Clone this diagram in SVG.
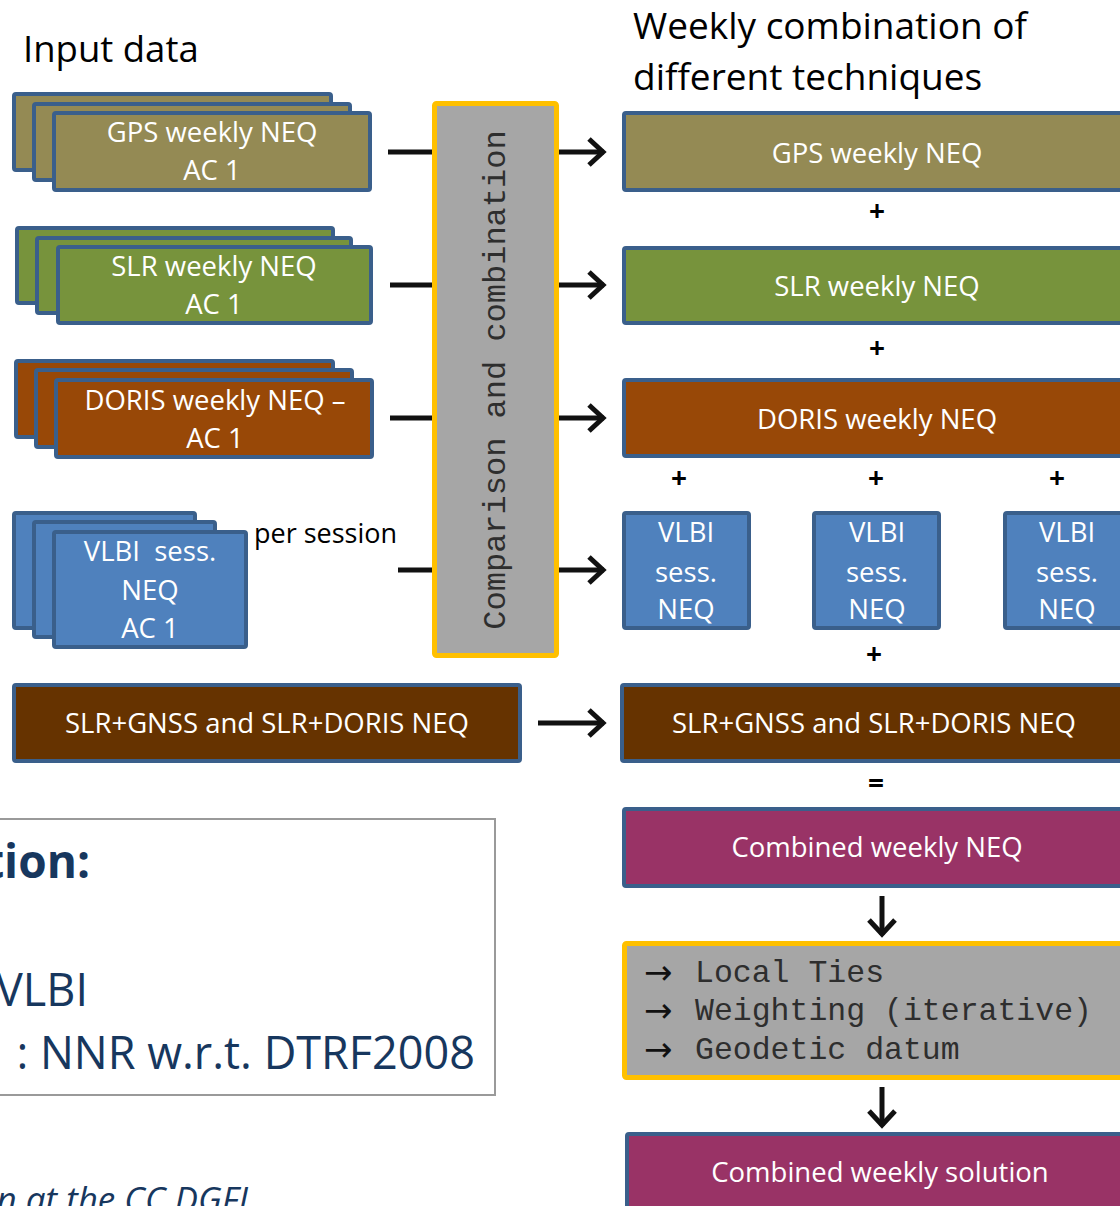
<svg xmlns="http://www.w3.org/2000/svg" width="1120" height="1206" viewBox="0 0 1120 1206">
<defs>
<style>
.bx{stroke:#3a5f8b;stroke-width:4}
.gps{fill:#948a54}.slr{fill:#77933c}.dor{fill:#984807}.vl{fill:#4f81bd}.mix{fill:#663300}.cmb{fill:#993366}
.proc{fill:#a6a6a6;stroke:#ffc000;stroke-width:5}
.t{font-family:"Open Sans","Liberation Sans",sans-serif;font-size:27.5px;fill:#fff;text-anchor:middle}
.h{font-family:"Open Sans","Liberation Sans",sans-serif;fill:#000}
.op{font-family:"Open Sans","Liberation Sans",sans-serif;font-size:28px;font-weight:bold;fill:#000;text-anchor:middle}
.mono{font-family:"Liberation Mono","Courier New",monospace;fill:#2e2e2e}
.bul{font-family:"DejaVu Sans",sans-serif;font-size:34px;fill:#111}
.nv{font-family:"Open Sans","Liberation Sans",sans-serif;fill:#17375e}
.ln{stroke:#111;stroke-width:5;fill:none}
</style>
<marker id="ah" markerUnits="userSpaceOnUse" viewBox="0 0 22 32" refX="19" refY="16" markerWidth="22" markerHeight="32" orient="auto">
<path d="M4,3 L18,16 L4,29" fill="none" stroke="#111" stroke-width="5"/>
</marker>
</defs>
<rect width="1120" height="1206" fill="#fff"/>

<text class="h" x="23" y="62" style="font-size:36.5px">Input data</text>
<text class="h" x="633" y="39" style="font-size:37px">Weekly combination of</text>
<text class="h" x="633" y="90" style="font-size:37px">different techniques</text>

<g id="connectors">
<line class="ln" x1="388" y1="152" x2="440" y2="152"/>
<line class="ln" x1="390" y1="285" x2="440" y2="285"/>
<line class="ln" x1="390" y1="418" x2="440" y2="418"/>
<line class="ln" x1="398" y1="570" x2="440" y2="570"/>
<line class="ln" x1="558" y1="152" x2="604" y2="152" marker-end="url(#ah)"/>
<line class="ln" x1="558" y1="285" x2="604" y2="285" marker-end="url(#ah)"/>
<line class="ln" x1="558" y1="418" x2="604" y2="418" marker-end="url(#ah)"/>
<line class="ln" x1="558" y1="570" x2="604" y2="570" marker-end="url(#ah)"/>
<line class="ln" x1="538" y1="723" x2="604" y2="723" marker-end="url(#ah)"/>
<line class="ln" x1="882" y1="896" x2="882" y2="935" marker-end="url(#ah)"/>
<line class="ln" x1="882" y1="1087" x2="882" y2="1126" marker-end="url(#ah)"/>
</g>

<g id="in-gps">
<rect class="bx gps" x="14" y="94" width="317" height="76" rx="2"/>
<rect class="bx gps" x="34" y="104" width="316" height="76" rx="2"/>
<rect class="bx gps" x="54" y="113" width="316" height="77" rx="2"/>
<text class="t" x="212" y="142">GPS weekly NEQ</text>
<text class="t" x="212" y="180">AC 1</text>
</g>
<g id="in-slr">
<rect class="bx slr" x="17" y="228" width="316" height="75" rx="2"/>
<rect class="bx slr" x="37" y="238" width="314" height="75" rx="2"/>
<rect class="bx slr" x="58" y="247" width="313" height="76" rx="2"/>
<text class="t" x="214" y="276">SLR weekly NEQ</text>
<text class="t" x="214" y="314">AC 1</text>
</g>
<g id="in-doris">
<rect class="bx dor" x="16" y="361" width="317" height="76" rx="2"/>
<rect class="bx dor" x="36" y="370" width="316" height="77" rx="2"/>
<rect class="bx dor" x="56" y="380" width="316" height="77" rx="2"/>
<text class="t" x="215" y="410">DORIS weekly NEQ –</text>
<text class="t" x="215" y="448">AC 1</text>
</g>
<g id="in-vlbi">
<rect class="bx vl" x="14" y="513" width="181" height="115" rx="2"/>
<rect class="bx vl" x="34" y="522" width="181" height="115" rx="2"/>
<rect class="bx vl" x="54" y="532" width="192" height="115" rx="2"/>
<text class="t" x="150" y="561" xml:space="preserve">VLBI  sess.</text>
<text class="t" x="150" y="600">NEQ</text>
<text class="t" x="150" y="638">AC 1</text>
</g>
<text class="h" x="254" y="543" style="font-size:27px">per session</text>
<g id="in-mix">
<rect class="bx mix" x="14" y="685" width="506" height="76" rx="2"/>
<text class="t" x="267" y="733">SLR+GNSS and SLR+DORIS NEQ</text>
</g>

<g id="compare">
<rect class="proc" x="434.5" y="103.5" width="122" height="552" rx="2"/>
<text class="mono" font-size="32" text-anchor="middle" transform="translate(505,380) rotate(-90)">Comparison and combination</text>
</g>

<g id="out-gps">
<rect class="bx gps" x="624" y="113" width="510" height="77" rx="2"/>
<text class="t" x="877" y="163">GPS weekly NEQ</text>
</g>
<text class="op" x="877" y="221">+</text>
<g id="out-slr">
<rect class="bx slr" x="624" y="248" width="510" height="75" rx="2"/>
<text class="t" x="877" y="296">SLR weekly NEQ</text>
</g>
<text class="op" x="877" y="358">+</text>
<g id="out-doris">
<rect class="bx dor" x="624" y="380" width="510" height="76" rx="2"/>
<text class="t" x="877" y="429">DORIS weekly NEQ</text>
</g>
<text class="op" x="679" y="488">+</text>
<text class="op" x="876" y="488">+</text>
<text class="op" x="1057" y="488">+</text>
<g id="out-vlbi1">
<rect class="bx vl" x="624" y="513" width="125" height="115" rx="2"/>
<text class="t" x="686" y="542">VLBI</text>
<text class="t" x="686" y="582">sess.</text>
<text class="t" x="686" y="619">NEQ</text>
</g>
<g id="out-vlbi2">
<rect class="bx vl" x="814" y="513" width="125" height="115" rx="2"/>
<text class="t" x="877" y="542">VLBI</text>
<text class="t" x="877" y="582">sess.</text>
<text class="t" x="877" y="619">NEQ</text>
</g>
<g id="out-vlbi3">
<rect class="bx vl" x="1005" y="513" width="125" height="115" rx="2"/>
<text class="t" x="1067" y="542">VLBI</text>
<text class="t" x="1067" y="582">sess.</text>
<text class="t" x="1067" y="619">NEQ</text>
</g>
<text class="op" x="874" y="664">+</text>
<g id="out-mix">
<rect class="bx mix" x="622" y="685" width="510" height="76" rx="2"/>
<text class="t" x="874" y="733">SLR+GNSS and SLR+DORIS NEQ</text>
</g>
<text class="op" x="876" y="793">=</text>
<g id="combined-neq">
<rect class="bx cmb" x="624" y="809" width="510" height="77" rx="2"/>
<text class="t" x="877" y="857">Combined weekly NEQ</text>
</g>
<g id="steps">
<rect class="proc" x="624.5" y="943.5" width="510" height="134" rx="2"/>
<text class="bul" x="644" y="984">→</text>
<text class="bul" x="644" y="1022">→</text>
<text class="bul" x="644" y="1061">→</text>
<text class="mono" x="695" y="982" font-size="31.5">Local Ties</text>
<text class="mono" x="695" y="1020" font-size="31.5">Weighting (iterative)</text>
<text class="mono" x="695" y="1059" font-size="31.5">Geodetic datum</text>
</g>
<g id="combined-solution">
<rect class="bx cmb" x="627" y="1134" width="510" height="100" rx="2"/>
<text class="t" x="880" y="1182">Combined weekly solution</text>
</g>

<g id="note">
<rect x="-10" y="819" width="505" height="276" fill="#fff" stroke="#9a9a9a" stroke-width="2"/>
<text class="nv" x="90" y="878" font-size="46" font-weight="bold" text-anchor="end">tion:</text>
<text class="nv" x="88" y="1006" font-size="45" text-anchor="end">VLBI</text>
<text class="nv" x="475" y="1069" font-size="45" text-anchor="end">: NNR w.r.t. DTRF2008</text>
</g>
<text class="nv" x="248" y="1212" font-size="35" font-style="italic" text-anchor="end">n at the CC DGFI</text>
</svg>
